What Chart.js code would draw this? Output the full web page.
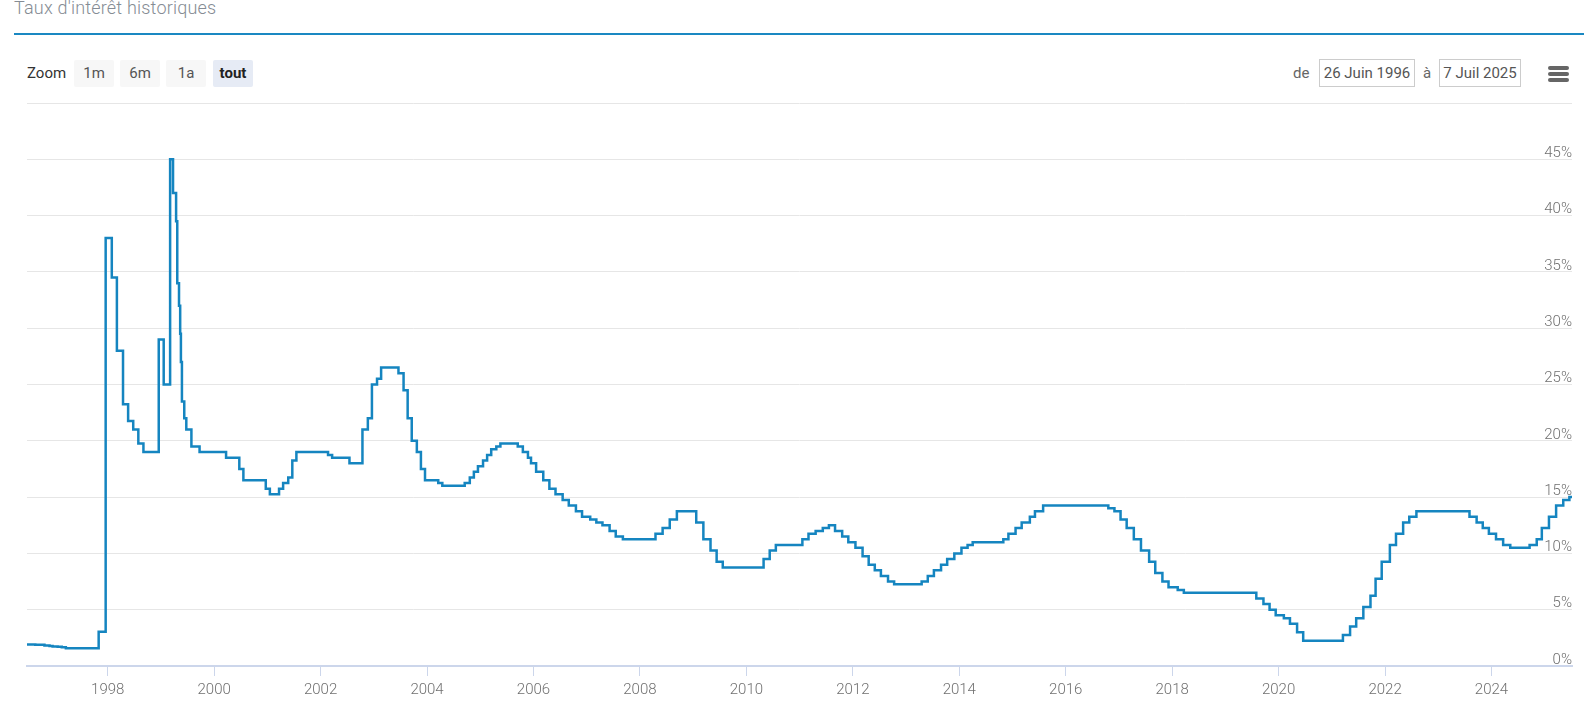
<!DOCTYPE html>
<html lang="fr">
<head>
<meta charset="utf-8">
<title>Taux d'intérêt historiques</title>
<script src="https://cdn.jsdelivr.net/npm/chart.js@4.4.1/dist/chart.umd.min.js"></script>
<style>
  html, body { margin: 0; padding: 0; background: #fff; }
  body { width: 1595px; height: 722px; position: relative; overflow: hidden; font-family: Roboto, "Noto Sans", sans-serif; }
  .title { position: absolute; left: 14px; top: -1px; font-size: 18px; line-height: 18px; color: #858c94; white-space: nowrap; font-weight: 300; letter-spacing: 0.2px; }
  .rule { position: absolute; left: 14px; top: 33px; width: 1570px; height: 2px; background: #1a88c2; }
  .lbl { position: absolute; top: 60px; height: 27px; line-height: 27px; font-size: 15px; color: #333; white-space: nowrap; }
  .btn { position: absolute; top: 60px; width: 40px; height: 27px; line-height: 27px; font-size: 15px; text-align: center; background: #f7f7f7; color: #555; border-radius: 2px; }
  .btn.sel { background: #e6ebf5; color: #222; font-weight: bold; }
  .inp { position: absolute; top: 59px; line-height: 26px; font-size: 15px; text-align: center; border: 1px solid #cccccc; color: #555; box-sizing: border-box; height: 28px; }
  .bar { position: absolute; left: 1548px; width: 21px; height: 4px; border-radius: 2px; background: #666; }
  #wrap { position: absolute; left: 0; top: 90px; width: 1595px; height: 632px; }
</style>
</head>
<body>
<div class="title">Taux d'intérêt historiques</div>
<div class="rule"></div>

<div class="lbl" style="left:27px;">Zoom</div>
<div class="btn" style="left:74px;">1m</div>
<div class="btn" style="left:120px;">6m</div>
<div class="btn" style="left:166px;">1a</div>
<div class="btn sel" style="left:213px;">tout</div>

<div class="lbl" style="left:1293px; color:#666;">de</div>
<div class="inp" style="left:1319px; width:96px;">26 Juin 1996</div>
<div class="lbl" style="left:1423px; color:#666;">à</div>
<div class="inp" style="left:1439px; width:82px;">7 Juil 2025</div>

<div class="bar" style="top:66px;"></div>
<div class="bar" style="top:72px;"></div>
<div class="bar" style="top:78px;"></div>

<div id="wrap"><canvas id="c" width="1595" height="632"></canvas></div>

<script>
// Date of each rate change (taux directeur), and the new rate in %
const changeDates = [
  "1996-06-26","1996-08-22","1996-10-24","1996-11-28","1996-12-19","1997-01-23","1997-02-20","1997-03-20",
  "1997-10-31","1997-12-18","1998-01-29","1998-03-05","1998-04-16","1998-05-21","1998-06-25","1998-07-30",
  "1998-09-03","1998-12-17","1999-01-20","1999-03-05","1999-03-25","1999-04-15","1999-04-23","1999-05-05",
  "1999-05-13","1999-05-18","1999-05-25","1999-06-10","1999-06-24","1999-07-29","1999-09-23","2000-03-23",
  "2000-06-22","2000-07-20","2000-12-21","2001-01-18","2001-03-22","2001-04-19","2001-05-24","2001-06-21",
  "2001-07-19","2002-02-21","2002-03-21","2002-07-18","2002-10-15","2002-11-21","2002-12-19","2003-01-23",
  "2003-02-20","2003-06-19","2003-07-24","2003-08-21","2003-09-18","2003-10-23","2003-11-20","2003-12-18",
  "2004-03-18","2004-04-15","2004-09-16","2004-10-21","2004-11-18","2004-12-16","2005-01-20","2005-02-17",
  "2005-03-17","2005-04-21","2005-05-19","2005-09-15","2005-10-20","2005-11-24","2005-12-15","2006-01-19",
  "2006-03-09","2006-04-20","2006-06-01","2006-07-20","2006-08-31","2006-10-19","2006-11-30","2007-01-25",
  "2007-03-08","2007-04-19","2007-06-07","2007-07-19","2007-09-06","2008-04-17","2008-06-05","2008-07-24",
  "2008-09-11","2009-01-22","2009-03-12","2009-04-30","2009-06-11","2009-07-23","2010-04-29","2010-06-10",
  "2010-07-22","2011-01-20","2011-03-03","2011-04-21","2011-06-09","2011-07-21","2011-09-01","2011-10-20",
  "2011-12-01","2012-01-19","2012-03-08","2012-04-19","2012-05-31","2012-07-12","2012-08-30","2012-10-11",
  "2013-04-18","2013-05-30","2013-07-11","2013-08-29","2013-10-10","2013-11-28","2014-01-16","2014-02-27",
  "2014-04-03","2014-10-30","2014-12-04","2015-01-22","2015-03-05","2015-04-30","2015-06-04","2015-07-30",
  "2016-10-20","2016-12-01","2017-01-12","2017-02-23","2017-04-13","2017-06-01","2017-07-27","2017-09-07",
  "2017-10-26","2017-12-07","2018-02-08","2018-03-22","2019-08-01","2019-09-19","2019-10-31","2019-12-12",
  "2020-02-06","2020-03-19","2020-05-07","2020-06-18","2021-03-18","2021-05-06","2021-06-17","2021-08-05",
  "2021-09-23","2021-10-28","2021-12-09","2022-02-03","2022-03-17","2022-05-05","2022-06-16","2022-08-04",
  "2023-08-03","2023-09-21","2023-11-02","2023-12-14","2024-02-01","2024-03-21","2024-05-09","2024-09-19",
  "2024-11-07","2024-12-12","2025-01-30","2025-03-20","2025-05-08","2025-06-19","2025-07-07"
];
const rates = [
  1.90,1.88,1.82,1.78,1.74,1.70,1.66,1.58,
  3.05,38.00,34.50,28.00,23.25,21.75,21.00,19.75,
  19.00,29.00,25.00,45.00,42.00,39.50,34.00,32.00,
  29.50,27.00,23.50,22.00,21.00,19.50,19.00,18.50,
  17.50,16.50,15.75,15.25,15.75,16.25,16.75,18.25,
  19.00,18.75,18.50,18.00,21.00,22.00,25.00,25.50,
  26.50,26.00,24.50,22.00,20.00,19.00,17.50,16.50,
  16.25,16.00,16.25,16.75,17.25,17.75,18.25,18.75,
  19.25,19.50,19.75,19.50,19.00,18.50,18.00,17.25,
  16.50,15.75,15.25,14.75,14.25,13.75,13.25,13.00,
  12.75,12.50,12.00,11.50,11.25,11.75,12.25,13.00,
  13.75,12.75,11.25,10.25,9.25,8.75,9.50,10.25,
  10.75,11.25,11.75,12.00,12.25,12.50,12.00,11.50,
  11.00,10.50,9.75,9.00,8.50,8.00,7.50,7.25,
  7.50,8.00,8.50,9.00,9.50,10.00,10.50,10.75,
  11.00,11.25,11.75,12.25,12.75,13.25,13.75,14.25,
  14.00,13.75,13.00,12.25,11.25,10.25,9.25,8.25,
  7.50,7.00,6.75,6.50,6.00,5.50,5.00,4.50,
  4.25,3.75,3.00,2.25,2.75,3.50,4.25,5.25,
  6.25,7.75,9.25,10.75,11.75,12.75,13.25,13.75,
  13.25,12.75,12.25,11.75,11.25,10.75,10.50,10.75,
  11.25,12.25,13.25,14.25,14.75,15.00,15.00
];
const yearTicks = [1998, 2000, 2002, 2004, 2006, 2008, 2010, 2012, 2014, 2016, 2018, 2020, 2022, 2024];
const rateTicks = [0, 5, 10, 15, 20, 25, 30, 35, 40, 45, 50];
const rangeStart = "1996-06-26";
const rangeEnd = "2025-07-07";

function toYear(s) {
  const p = s.split('-').map(Number);
  const t = Date.UTC(p[0], p[1] - 1, p[2]);
  const a = Date.UTC(p[0], 0, 1), b = Date.UTC(p[0] + 1, 0, 1);
  return p[0] + (t - a) / (b - a);
}

const points = changeDates.map((d, i) => ({ x: toYear(d), y: rates[i] }));
const tickFont = { family: 'Roboto, "Noto Sans", sans-serif', size: 15, weight: 300 };

new Chart(document.getElementById('c'), {
  type: 'line',
  data: {
    datasets: [{
      label: 'Taux',
      data: points,
      stepped: true,
      borderColor: '#1585c0',
      borderWidth: 2.5,
      pointRadius: 0,
      fill: false,
      tension: 0
    }]
  },
  options: {
    responsive: false,
    animation: false,
    layout: { padding: { left: 27, right: 23, top: 13, bottom: 18 } },
    plugins: { legend: { display: false }, tooltip: { enabled: false } },
    scales: {
      x: {
        type: 'linear',
        min: toYear(rangeStart),
        max: toYear(rangeEnd),
        afterBuildTicks: (s) => { s.ticks = yearTicks.map(v => ({ value: v })); },
        ticks: { callback: (v) => String(v), color: '#707070', font: tickFont, padding: 5, maxRotation: 0, autoSkip: false },
        grid: { drawOnChartArea: false, drawTicks: true, tickLength: 10, color: '#ccd6eb', lineWidth: 1 },
        border: { display: true, color: '#ccd6eb', width: 2 }
      },
      y: {
        position: 'right',
        min: 0,
        max: 50,
        afterBuildTicks: (s) => { s.ticks = rateTicks.map(v => ({ value: v })); },
        ticks: {
          mirror: true, padding: 0, labelOffset: -6, color: '#707070', font: tickFont,
          callback: (v) => (v === 50 ? '' : v + '%')
        },
        grid: { color: '#e6e6e6', lineWidth: 1, drawTicks: false },
        border: { display: false }
      }
    }
  }
});
</script>
</body>
</html>
